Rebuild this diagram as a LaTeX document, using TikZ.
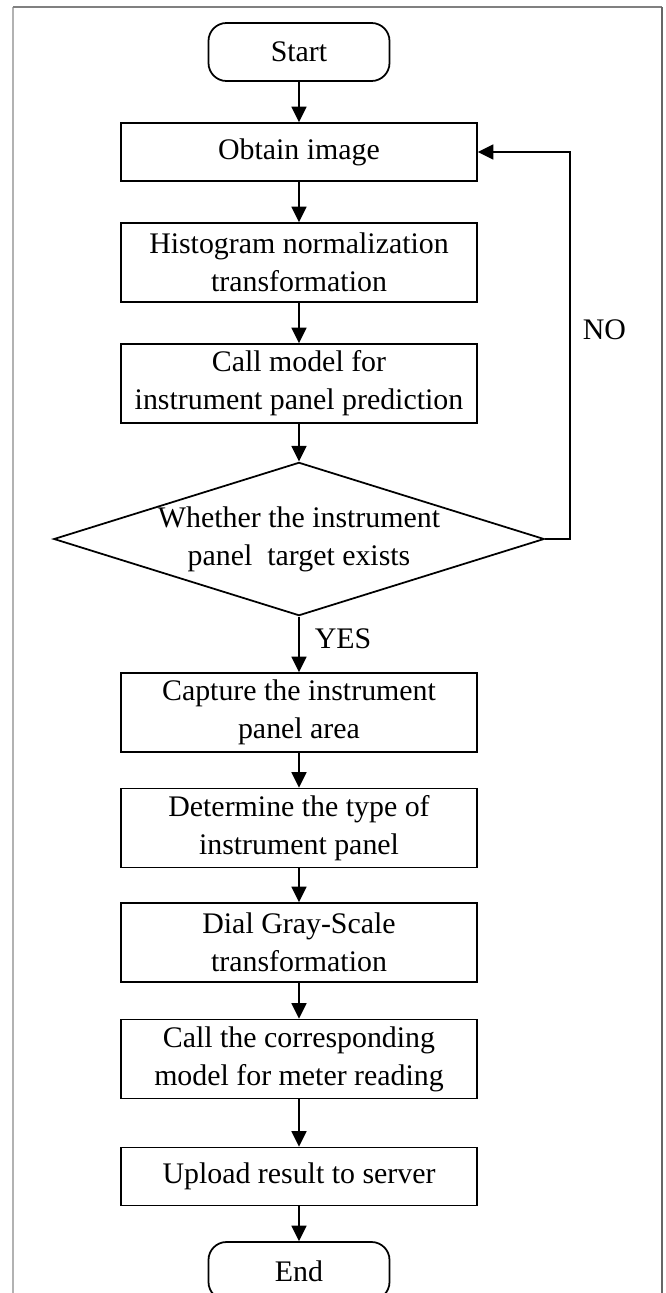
\documentclass[tikz,border=0pt]{standalone}
\usepackage{fontspec}
\setmainfont{Liberation Serif}
\usetikzlibrary{
    shapes.geometric,
    positioning,
    arrows.meta
}
\tikzset{
    >={Triangle[length=0.31cm, width=0.3cm]},
    every node/.style={
        font=\fontsize{17}{21.6}\selectfont
    },
    proceso/.style={
        draw,
        line width=1pt,
        minimum width=7.12cm,
        minimum height=1.58cm,
        align=center,
        inner sep=2pt
    },
    proceso corto/.style={
        proceso,
        minimum height=1.16cm
    },
    terminal/.style={
        draw,
        line width=1pt,
        rounded corners=0.36cm,
        minimum width=3.62cm,
        minimum height=1.16cm
    },
    decision/.style={
        draw,
        diamond,
        line width=1pt,
        aspect=3.2,
        inner sep=0pt,
        align=center
    }
}

\begin{document}
\begin{tikzpicture}[
    line width=0.95pt
]
    \useasboundingbox (0,0) rectangle (13.3,-25.86);

    % Marco
    \draw[black!30, line width=1.1pt] (0.26,-25.86) -- (0.26,-0.14);
    \draw[black!50, line width=1.1pt] (0.26,-0.14) -- (13.24,-0.14);
    \draw[black!60, line width=1.1pt] (13.24,-0.14) -- (13.24,-25.86);

    % Nodos
    \node[terminal]      (ini) at (5.98,-1.04)  {Start};
    \node[proceso corto] (obt) at (5.98,-3.04)  {Obtain image};
    \node[proceso]       (his) at (5.98,-5.25)  {Histogram normalization\\transformation};
    \node[proceso]       (mod) at (5.98,-7.67)  {Call model for\\instrument panel prediction};
    \node[decision]      (dec) at (5.98,-10.78) {Whether the instrument\\panel\ \ target exists};
    \node[proceso]       (cap) at (5.98,-14.25) {Capture the instrument\\panel area};
    \node[proceso]       (tip) at (5.98,-16.56) {Determine the type of\\instrument panel};
    \node[proceso]       (gri) at (5.98,-18.85) {Dial Gray-Scale\\transformation};
    \node[proceso]       (lec) at (5.98,-21.18) {Call the corresponding\\model for meter reading};
    \node[proceso corto] (sub) at (5.98,-23.53) {Upload result to server};
    \node[terminal]      (fin) at (5.98,-25.42) {End};

    \coordinate (bucle) at (11.4,-10.78);

    % Flechas
    \path[->]
        (ini) edge (obt)
        (obt) edge (his)
        (his) edge (mod)
        (mod) edge (dec)
        (dec) edge node[pos=0.4, right=0.3cm, inner sep=0pt] {YES} (cap)
        (cap) edge (tip)
        (tip) edge (gri)
        (gri) edge (lec)
        (lec) edge (sub)
        (sub) edge (fin);

    % Vuelta cuando no hay panel
    \draw[->] (dec.east) -- (bucle) |- (obt.east)
        node[pos=0.27, right=0.24cm, inner sep=0pt] {NO};

\end{tikzpicture}
\end{document}
